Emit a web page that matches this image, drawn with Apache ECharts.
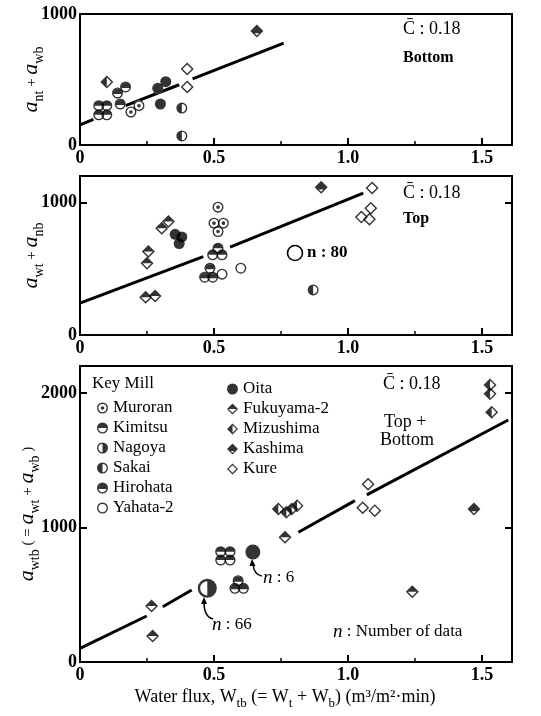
<!DOCTYPE html>
<html><head><meta charset="utf-8">
<script src="https://cdn.jsdelivr.net/npm/echarts@6/dist/echarts.min.js"></script>
<style>html,body{margin:0;padding:0;background:#fff}#c{width:541px;height:716px}</style>
</head><body><div id="c"></div>
<script>
// ---------- categories ----------
const mills = ['Muroran','Kimitsu','Nagoya','Sakai','Hirohata','Yahata-2','Oita','Fukuyama-2','Mizushima','Kashima','Kure'];
const legendCol1 = ['Muroran','Kimitsu','Nagoya','Sakai','Hirohata','Yahata-2'];
const legendCol2 = ['Oita','Fukuyama-2','Mizushima','Kashima','Kure'];
const xTickLabels = ['0','0.5','1.0','1.5'];

// ---------- Panel 1 : Bottom ----------
const bot_Kimitsu = [[0.07,300],[0.10,300],[0.07,230],[0.10,230]];
const bot_Hirohata = [[0.14,397],[0.17,443],[0.15,313]];
const bot_Muroran = [[0.19,252],[0.22,300]];
const bot_Oita = [[0.29,433],[0.32,483],[0.30,313]];
const bot_Sakai = [[0.38,282],[0.38,69]];
const bot_Kure = [[0.40,580],[0.40,443]];
const bot_Mizushima = [[0.10,481]];
const bot_Kashima = [[0.66,870]];
const bot_line1 = [[0,153],[0.05,195]];
const bot_line2 = [[0.17,300],[0.37,460]];
const bot_line3 = [[0.42,505],[0.76,778]];

// ---------- Panel 2 : Top ----------
const top_Kashima = [[0.90,1116]];
const top_Kure = [[1.09,1109],[1.085,957],[1.05,890],[1.08,874]];
const top_Muroran = [[0.515,965],[0.50,844],[0.535,844],[0.515,781]];
const top_Kimitsu = [[0.515,655],[0.495,605],[0.53,605]];
const top_Hirohata = [[0.485,504],[0.465,436],[0.495,436]];
const top_Yahata = [[0.53,459],[0.60,504]];
const top_Oita = [[0.355,760],[0.38,740],[0.37,690]];
const top_Fukuyama = [[0.33,857],[0.305,806],[0.255,630],[0.25,542],[0.245,285],[0.28,295]];
const top_Sakai = [[0.87,340]];
const top_line1 = [[0,240],[0.46,592]];
const top_line2 = [[0.56,663],[1.057,1071]];

// ---------- Panel 3 : Top + Bottom ----------
const tb_Mizushima = [[1.53,2059],[1.53,1993],[1.536,1857],[0.74,1138],[0.77,1113],[0.79,1138],[0.81,1162]];
const tb_Fukuyama = [[0.765,927],[0.267,416],[0.271,193],[1.24,523]];
const tb_Kashima = [[1.47,1138]];
const tb_Kure = [[1.075,1321],[1.055,1147],[1.10,1125]];
const tb_Oita = [[0.645,818]];
const tb_Kimitsu = [[0.525,820],[0.56,820],[0.525,758],[0.56,758]];
const tb_Hirohata = [[0.59,604],[0.578,548],[0.61,548]];
const tb_Nagoya = [[0.475,548]];
const tb_line1 = [[0,102],[0.249,342]];
const tb_line2 = [[0.309,411],[0.417,535]];
const tb_line3 = [[0.815,964],[1.026,1199]];
const tb_line4 = [[1.07,1242],[1.598,1799]];

// ---------- symbols ----------
const RING = 'M10 0A10 10 0 1 1 10 20A10 10 0 1 1 10 0Z M10 2.5A7.5 7.5 0 1 0 10 17.5A7.5 7.5 0 1 0 10 2.5Z';
const DIA = 'M10 0L20 10L10 20L0 10Z M10 3L3 10L10 17L17 10Z';
const sym = {
  'Muroran': 'path://' + RING + ' M10 6.7A3.3 3.3 0 1 1 10 13.3A3.3 3.3 0 1 1 10 6.7Z',
  'Kimitsu': 'path://' + RING + ' M2.5 10A7.5 7.5 0 0 1 17.5 10Z',
  'Nagoya': 'path://' + RING + ' M10 2.5A7.5 7.5 0 0 1 10 17.5Z',
  'Sakai': 'path://' + RING + ' M10 2.5A7.5 7.5 0 0 0 10 17.5Z',
  'Hirohata': 'path://' + RING + ' M2.8 12A7.5 7.5 0 1 1 17.2 12Z',
  'Yahata-2': 'path://' + RING,
  'Oita': 'path://M10 0A10 10 0 1 1 10 20A10 10 0 1 1 10 0Z',
  'Fukuyama-2': 'path://' + DIA + ' M3 10L10 3L17 10Z',
  'Mizushima': 'path://' + DIA + ' M10 3L10 17L3 10Z',
  'Kashima': 'path://' + DIA + ' M3 10L10 3L17 10L13.5 13.5L6.5 13.5Z',
  'Kure': 'path://' + DIA
};
const isDiamond = m => ['Fukuyama-2','Mizushima','Kashima','Kure'].includes(m);

const SERIF = 'Liberation Serif';
const series = [];
function addMill(g, mill, data, size) {
  const s = size || (isDiamond(mill) ? 13 : 11);
  series.push({type:'scatter', name: mill + '_bg', xAxisIndex:g, yAxisIndex:g, data:data,
    symbol: isDiamond(mill) ? 'diamond' : 'circle', symbolSize:s, itemStyle:{color:'#fff'}, silent:true, z:3});
  series.push({type:'scatter', name: mill, xAxisIndex:g, yAxisIndex:g, data:data,
    symbol: sym[mill], symbolSize:s, itemStyle:{color:'#000'}, z:4});
}
function addLine(g, data) {
  series.push({type:'line', xAxisIndex:g, yAxisIndex:g, data:data, symbol:'none', silent:true,
    lineStyle:{color:'#000', width:3}, z:2});
}
// panel 1
[bot_line1, bot_line2, bot_line3].forEach(d => addLine(0, d));
addMill(0,'Kimitsu',bot_Kimitsu); addMill(0,'Hirohata',bot_Hirohata); addMill(0,'Muroran',bot_Muroran);
addMill(0,'Oita',bot_Oita); addMill(0,'Sakai',bot_Sakai); addMill(0,'Kure',bot_Kure);
addMill(0,'Mizushima',bot_Mizushima); addMill(0,'Kashima',bot_Kashima);
// panel 2
[top_line1, top_line2].forEach(d => addLine(1, d));
addMill(1,'Kashima',top_Kashima); addMill(1,'Kure',top_Kure); addMill(1,'Muroran',top_Muroran);
addMill(1,'Kimitsu',top_Kimitsu); addMill(1,'Hirohata',top_Hirohata); addMill(1,'Yahata-2',top_Yahata);
addMill(1,'Oita',top_Oita); addMill(1,'Fukuyama-2',top_Fukuyama); addMill(1,'Sakai',top_Sakai);
// panel 3
[tb_line1, tb_line2, tb_line3, tb_line4].forEach(d => addLine(2, d));
addMill(2,'Mizushima',tb_Mizushima); addMill(2,'Fukuyama-2',tb_Fukuyama); addMill(2,'Kashima',tb_Kashima);
addMill(2,'Kure',tb_Kure); addMill(2,'Oita',tb_Oita,15); addMill(2,'Kimitsu',tb_Kimitsu);
addMill(2,'Hirohata',tb_Hirohata); addMill(2,'Nagoya',tb_Nagoya,19);

const grids = [
  {left:80, top:14, width:432, height:131},
  {left:80, top:176, width:432, height:159},
  {left:80, top:366, width:432, height:296}
].map(g => Object.assign(g, {show:true, borderColor:'#000', borderWidth:2, backgroundColor:'transparent',
  containLabel:false, outerBoundsMode:'none'}));

const tickLabelStyle = {color:'#000', fontFamily:SERIF, fontWeight:'bold', fontSize:18};
function xAxis(g, extra) {
  return Object.assign({type:'value', gridIndex:g, min:0, max:1.612, interval:0.5,
    axisLine:{show:true, lineStyle:{color:'#000', width:2}},
    axisTick:{show:true, inside:true, length:7, lineStyle:{color:'#000', width:2}},
    minorTick:{show:true, splitNumber:2, length:4, lineStyle:{color:'#000', width:1.5}},
    splitLine:{show:false},
    axisLabel:Object.assign({margin:4, showMaxLabel:false, formatter:(v,i)=>xTickLabels[i]}, tickLabelStyle)}, extra||{});
}
const richName = {
  a:{fontFamily:SERIF, fontStyle:'italic', fontSize:22, color:'#000', verticalAlign:'bottom', padding:[0,0,4,0]},
  s:{fontFamily:SERIF, fontSize:14, color:'#000', verticalAlign:'bottom'},
  p:{fontFamily:SERIF, fontSize:15, color:'#000', verticalAlign:'bottom', padding:[0,0,6,0]}
};
function yAxis(g, max, name, gap) {
  return {type:'value', gridIndex:g, min:0, max:max, interval:1000,
    name:name, nameLocation:'middle', nameRotate:90, nameGap:gap, nameMoveOverlap:false,
    nameTextStyle:{rich:richName},
    axisLine:{show:true, lineStyle:{color:'#000', width:2}},
    axisTick:{show:true, inside:true, length:7, lineStyle:{color:'#000', width:2}},
    splitLine:{show:false},
    axisLabel:Object.assign({margin:3, showMaxLabel:max%1000===0, formatter:v=>String(v)}, tickLabelStyle)};
}
function yRight(g, max) {
  return {type:'value', gridIndex:g, min:0, max:max, interval:1000, position:'right',
    axisLine:{show:true, lineStyle:{color:'#000', width:2}},
    axisTick:{show:true, inside:true, length:7, lineStyle:{color:'#000', width:2}},
    splitLine:{show:false}, axisLabel:{show:false}};
}

const xAxes = [xAxis(0), xAxis(1), xAxis(2, {
  name:'Water flux, W{s|tb} (= W{s|t} + W{s|b}) (m³/m²·min)', nameLocation:'middle', nameGap:26, nameMoveOverlap:false,
  nameTextStyle:{fontFamily:SERIF, fontSize:18, color:'#000', padding:[0,22,0,0],
    rich:{s:{fontFamily:SERIF, fontSize:13, color:'#000', verticalAlign:'bottom', padding:[0,0,-4,0]}}}
})];
const yAxes = [
  yAxis(0, 1000, '{a|a}{s|nt}{p| + }{a|a}{s|wb}', 34),
  yAxis(1, 1200, '{a|a}{s|wt}{p| + }{a|a}{s|nb}', 34),
  yAxis(2, 2200, '{a|a}{s|wtb}{p| ( = }{a|a}{s|wt}{p| + }{a|a}{s|wb}{p| )}', 38),
  yRight(0, 1000), yRight(1, 1200), yRight(2, 2200)
];

const legendText = {fontFamily:SERIF, fontSize:17, color:'#000', lineHeight:20};
const legends = [
  {left:92, top:393, orient:'vertical', itemWidth:11, itemHeight:11, itemGap:0, selectedMode:false,
   textStyle:legendText, data:legendCol1.map(n => ({name:n, icon:sym[n]}))},
  {left:222, top:374, orient:'vertical', itemWidth:11, itemHeight:11, itemGap:0, selectedMode:false,
   textStyle:legendText, data:legendCol2.map(n => ({name:n, icon:sym[n]}))}
];

const txt = (x, y, t, extra) => ({type:'text', left:x, top:y, z:10,
  style:Object.assign({text:t, fill:'#000', font:'18px "Liberation Serif"'}, extra||{})});
const graphic = [
  txt(403, 20, 'C\u0304 : 0.18'), txt(403, 50, 'Bottom', {font:'bold 16px "Liberation Serif"'}),
  txt(403, 184, 'C\u0304 : 0.18'), txt(403, 211, 'Top', {font:'bold 16px "Liberation Serif"'}),
  {type:'circle', shape:{cx:295, cy:253, r:7.5}, style:{fill:'#fff', stroke:'#000', lineWidth:1.6}, z:10},
  txt(307, 244, 'n : 80', {font:'bold 17px "Liberation Serif"'}),
  txt(383, 375, 'C\u0304 : 0.18'), txt(384, 413, 'Top +'), txt(380, 431, 'Bottom'),
  txt(92, 375, 'Key Mill', {font:'17px "Liberation Serif"'}),
  {type:'text', left:263, top:568, z:10, style:{text:'{i|n} : 6', fill:'#000',
    rich:{i:{fontFamily:SERIF, fontStyle:'italic', fontSize:19, fill:'#000'}}, font:'17px "Liberation Serif"'}},
  {type:'text', left:212, top:615, z:10, style:{text:'{i|n} : 66', fill:'#000',
    rich:{i:{fontFamily:SERIF, fontStyle:'italic', fontSize:19, fill:'#000'}}, font:'17px "Liberation Serif"'}},
  {type:'text', left:333, top:622, z:10, style:{text:'{i|n} : Number of data', fill:'#000',
    rich:{i:{fontFamily:SERIF, fontStyle:'italic', fontSize:19, fill:'#000'}}, font:'17px "Liberation Serif"'}},
  {type:'bezierCurve', shape:{x1:262, y1:576, cpx1:254, cpy1:575, x2:253, y2:564}, style:{stroke:'#000', lineWidth:1.5, fill:null}, z:10},
  {type:'polygon', shape:{points:[[252,559],[249.5,566],[255.5,566]]}, style:{fill:'#000'}, z:10},
  {type:'bezierCurve', shape:{x1:213, y1:619, cpx1:204, cpy1:617, x2:204, y2:602}, style:{stroke:'#000', lineWidth:1.5, fill:null}, z:10},
  {type:'polygon', shape:{points:[[204,597],[201,604],[207,604]]}, style:{fill:'#000'}, z:10}
];

const chart = echarts.init(document.getElementById('c'), null, {renderer:'canvas'});
chart.setOption({
  backgroundColor:'#fff', animation:false,
  grid:grids, xAxis:xAxes, yAxis:yAxes, legend:legends, series:series, graphic:graphic
});
</script></body></html>
